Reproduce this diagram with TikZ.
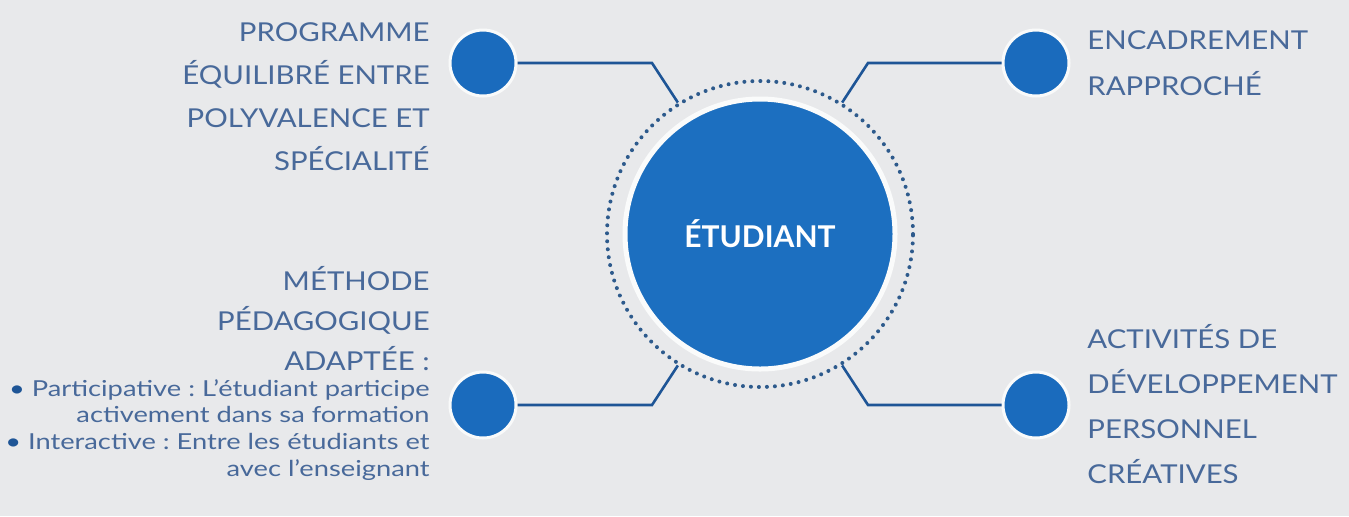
\documentclass[tikz,border=0pt]{standalone}
\usepackage{fontspec}
\setmainfont{Lato}
\newfontfamily\headfont[FakeStretch=1.13]{Lato}
\newfontfamily\lstfont[FakeStretch=1.24]{Lato}
\frenchspacing
\definecolor{bgc}{HTML}{E8E9EB}
\definecolor{hubblue}{HTML}{1C6FC0}
\definecolor{dotblue}{HTML}{1A6BBD}
\definecolor{linkc}{HTML}{1E5596}
\definecolor{ringc}{HTML}{2D5A8C}
\definecolor{txtc}{HTML}{48699A}
\tikzset{
  hub/.style={circle,fill=hubblue,draw=white!80!bgc,line width=2.5pt,minimum size=135pt,
    text=white,font=\fontsize{15}{18}\selectfont\bfseries},
  ring/.style={circle,draw=ringc,line width=2pt,dash pattern=on 0pt off 4pt,
    line cap=round,minimum size=153pt},
  bubble/.style={circle,fill=dotblue,draw=white!75!bgc,line width=1.5pt,minimum size=33pt},
  link/.style={draw=linkc,line width=1.3pt},
  lbl/.style={text=txtc,inner sep=0pt,font=\headfont\fontsize{13}{21.5}\selectfont},
  lst/.style={text=txtc,inner sep=0pt,font=\lstfont\fontsize{11}{13.3}\selectfont}
}
\newcommand{\blt}{\textcolor{linkc}{•}}
\begin{document}
\begin{tikzpicture}[x=0.5pt,y=-0.5pt]
    \fill[bgc](0,0) rectangle (1349,516);
    \useasboundingbox (0,0) rectangle (1349,516);
    % centre
    \node[hub] (etu) at (760,234) {ÉTUDIANT};
    \node[ring] (ring) at (760,234) {};
    % bulles
    \node[bubble] (prog) at (483,63) {};
    \node[bubble] (enca) at (1036,63) {};
    \node[bubble] (meth) at (483,405) {};
    \node[bubble] (acti) at (1036,405) {};
    \coordinate (kprog) at (652,63);
    \coordinate (kenca) at (868,63);
    \coordinate (kmeth) at (652,405);
    \coordinate (kacti) at (868,405);
    \draw[link](prog)--(kprog)--(ring.122);
    \draw[link](enca)--(kenca)--(ring.58);
    \draw[link](meth)--(kmeth)--(ring.238);
    \draw[link](acti)--(kacti)--(ring.302);
    % textes
    \node[lbl,anchor=north east,align=right] (progtxt) at (430,22)
        {PROGRAMME\\ÉQUILIBRÉ ENTRE\\POLYVALENCE ET\\SPÉCIALITÉ};
    \node[lbl,anchor=north west,align=left,font=\headfont\fontsize{13}{23}\selectfont] (encatxt) at (1087,30)
        {ENCADREMENT\\RAPPROCHÉ};
    \node[lbl,anchor=north east,align=right,font=\headfont\fontsize{13}{20}\selectfont] (methtxt) at (430,266)
        {MÉTHODE\\PÉDAGOGIQUE\\ADAPTÉE :};
    \node[lst,anchor=north east,align=right] (methlst) at (430,379)
        {\blt{} Participative : L’étudiant participe\\activement dans sa formation\\
         \blt{} Interactive : Entre les étudiants et\\avec l’enseignant};
    \node[lbl,anchor=north west,align=left,font=\headfont\fontsize{13}{22.5}\selectfont] (actitxt) at (1087,324)
        {ACTIVITÉS DE\\DÉVELOPPEMENT\\PERSONNEL\\CRÉATIVES};
\end{tikzpicture}
\end{document}
